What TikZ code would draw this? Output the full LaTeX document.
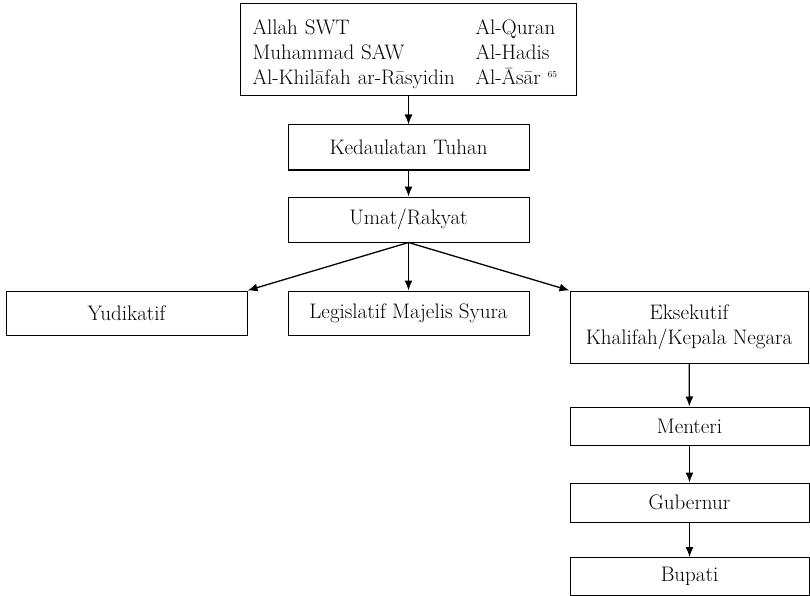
\documentclass[tikz,border=0pt]{standalone}
\usepackage{amsmath}
\usepackage{array}
\usetikzlibrary{math,arrows.meta}

\tikzset{
  kotak/.style={draw=black, line width=1pt, fill=white, minimum width=241pt, minimum height=44pt, inner sep=0pt, font=\fontsize{21}{25}\selectfont},
  panah/.style={line width=1.3pt, -{Latex[length=10pt,width=8pt]}}
}

\begin{document}
\begin{tikzpicture}[x=1pt,y=1pt]
      \tikzmath{\xm = 408.5; \xr = 689.5; \xl = 126.5; \yb = -313;}
      \useasboundingbox (0,0) rectangle (810,-596);
      \node[kotak, minimum width=336pt, minimum height=92pt, text width=312pt, inner xsep=12pt, text height=47.5pt, text depth=27.5pt, align=left] (sumber) at (\xm,-50)
        {\begin{tabular}{@{}p{223pt}@{}l@{}}
          Allah SWT & Al-Quran\\
          Muhammad SAW & Al-Hadis\\
          Al-Khilāfah ar-Rāsyidin & Al-Āsār \raisebox{7pt}{\fontsize{9}{9}\selectfont 65}
        \end{tabular}};
      \node[kotak, minimum height=45pt] (kedaulatan) at (\xm,-147.5) {Kedaulatan Tuhan};
      \node[kotak, minimum height=45pt] (umat) at (\xm,-219.5) {Umat/Rakyat};
      \node[kotak] (yudikatif) at (\xl,\yb) {Yudikatif};
      \node[kotak] (legislatif) at (\xm,\yb) {Legislatif Majelis Syura};
      \node[kotak, minimum width=238pt, minimum height=72pt, align=center] (eksekutif) at (689,-327) {Eksekutif\\Khalifah/Kepala Negara};
      \node[kotak, minimum width=239pt, minimum height=38pt] (menteri) at (\xr,-426) {Menteri};
      \node[kotak, minimum width=239pt, minimum height=39pt] (gubernur) at (\xr,-502.5) {Gubernur};
      \node[kotak, minimum width=239pt, minimum height=38pt] (bupati) at (\xr,-576.5) {Bupati};
      % panah antar kotak
      \draw[panah] (sumber.south) -- (kedaulatan.north);
      \draw[panah] (kedaulatan) -- (umat);
      \draw[panah] (umat.south) -- (yudikatif.north east);
      \draw[panah] (umat.south) -- (legislatif.north);
      \draw[panah] (umat.south) -- (eksekutif.north west);
      \draw[panah] (eksekutif) -- (menteri);
      \draw[panah] (menteri) -- (gubernur);
      \draw[panah] (gubernur) -- (bupati);
    \end{tikzpicture}
\end{document}
